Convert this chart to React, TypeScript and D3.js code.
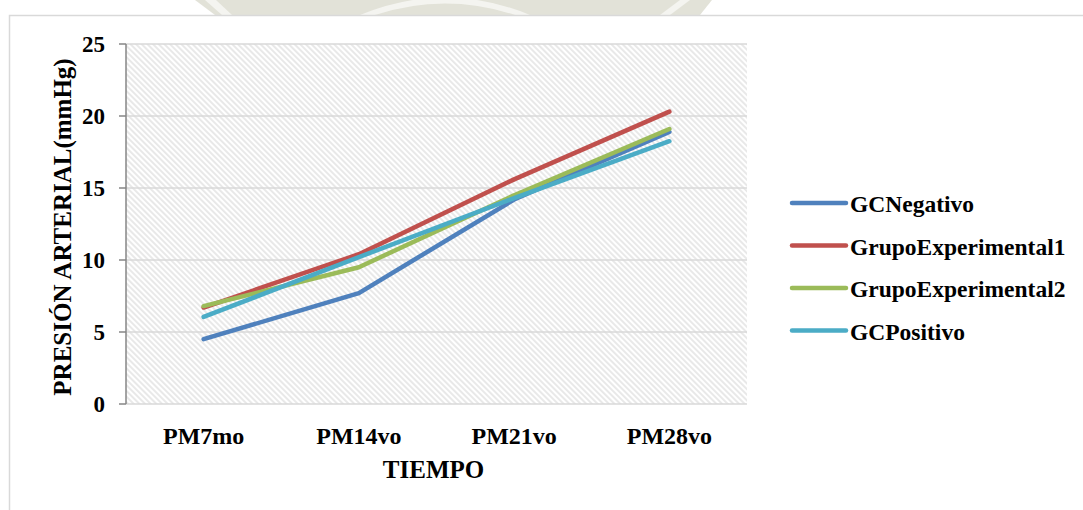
import React from "react";
import * as d3 from "d3";

const categories = ["PM7mo", "PM14vo", "PM21vo", "PM28vo"];
const seriesNames = ["GCNegativo", "GrupoExperimental1", "GrupoExperimental2", "GCPositivo"];
const gcNegativo = [4.5, 7.7, 14.2, 18.9];
const grupoExp1 = [6.7, 10.4, 15.6, 20.3];
const grupoExp2 = [6.8, 9.5, 14.5, 19.1];
const gcPositivo = [6.05, 10.2, 14.3, 18.25];
const yTicks = [0, 5, 10, 15, 20, 25];
const colors = ["#4F81BD", "#C0504D", "#9BBB59", "#4BACC6"];

const allSeries = [gcNegativo, grupoExp1, grupoExp2, gcPositivo];

export default function App() {
  const W = 1083, H = 510;
  const left = 126, right = 747, top = 44, bottom = 404;
  const x = d3.scaleBand<string>().domain(categories).range([left, right]);
  const y = d3.scaleLinear().domain([0, 25]).range([bottom, top]);
  const line = d3
    .line<number>()
    .x((_, i) => (x(categories[i]) as number) + x.bandwidth() / 2)
    .y((d) => y(d));
  const font = "'Liberation Serif', 'Times New Roman', serif";
  const legendX = 792, legendY0 = 203, legendStep = 42.5;

  return (
    <svg
      width={W}
      height={H}
      style={{ position: "absolute", left: 0, top: 0, background: "#fff" }}
      fontFamily={font}
    >
      <defs>
        <pattern id="hatch" width="4" height="4" patternUnits="userSpaceOnUse" patternTransform="rotate(-45)">
          <rect width="4" height="4" fill="#ffffff" />
          <line x1="1" y1="0" x2="1" y2="4" stroke="#dadada" strokeWidth="1.2" />
        </pattern>
        <clipPath id="wm">
          <rect x="0" y="0" width={W} height="15" />
        </clipPath>
      </defs>
      {/* faint watermark above the chart frame */}
      <g clipPath="url(#wm)">
        <path d="M195,0 L215,15 L700,15 L712,0 Z" fill="#e2e2d8" />
        <path d="M205,0 L222,15 L232,15 L216,0 Z" fill="#f4f4f0" />
        <path d="M360,15 Q445,-20 530,15 L515,15 Q445,-8 375,15 Z" fill="#f4f4f0" />
        <path d="M660,15 L680,0 L690,0 L670,15 Z" fill="#f4f4f0" />
      </g>
      {/* chart frame */}
      <rect x={9.5} y={15.5} width={1200} height={600} fill="#fff" stroke="#d9d9d9" strokeWidth={1.5} />
      {/* plot area */}
      <rect x={left} y={top} width={right - left} height={bottom - top} fill="url(#hatch)" />
      {yTicks.map((t) => (
        <line key={"g" + t} x1={left} x2={right} y1={y(t)} y2={y(t)} stroke="#d9d9d9" strokeWidth={1.5} />
      ))}
      <line x1={left} x2={left} y1={top} y2={bottom} stroke="#868686" strokeWidth={1.5} />
      {yTicks.map((t) => (
        <g key={"t" + t}>
          <line x1={left - 7} x2={left} y1={y(t)} y2={y(t)} stroke="#868686" strokeWidth={1.5} />
          <text x={105} y={y(t) + 8} textAnchor="end" fontSize={23} fontWeight="bold" fill="#000">
            {t}
          </text>
        </g>
      ))}
      {categories.map((c) => (
        <text
          key={c}
          x={(x(c) as number) + x.bandwidth() / 2}
          y={444}
          textAnchor="middle"
          fontSize={24}
          fontWeight="bold"
          fill="#000"
        >
          {c}
        </text>
      ))}
      <text x={(left + right) / 2 - 3} y={478} textAnchor="middle" fontSize={25} fontWeight="bold">
        TIEMPO
      </text>
      <text
        transform={`translate(71, ${(top + bottom) / 2 + 3}) rotate(-90)`}
        textAnchor="middle"
        fontSize={25}
        fontWeight="bold"
      >
        PRESIÓN ARTERIAL(mmHg)
      </text>
      {allSeries.map((s, i) => (
        <path
          key={seriesNames[i]}
          d={line(s) as string}
          fill="none"
          stroke={colors[i]}
          strokeWidth={4.5}
          strokeLinecap="round"
          strokeLinejoin="round"
        />
      ))}
      {seriesNames.map((n, i) => (
        <g key={"l" + n}>
          <line
            x1={legendX}
            x2={legendX + 54}
            y1={legendY0 + i * legendStep}
            y2={legendY0 + i * legendStep}
            stroke={colors[i]}
            strokeWidth={4.5}
            strokeLinecap="round"
          />
          <text x={legendX + 58} y={legendY0 + i * legendStep + 9} fontSize={23.5} fontWeight="bold">
            {n}
          </text>
        </g>
      ))}
    </svg>
  );
}
